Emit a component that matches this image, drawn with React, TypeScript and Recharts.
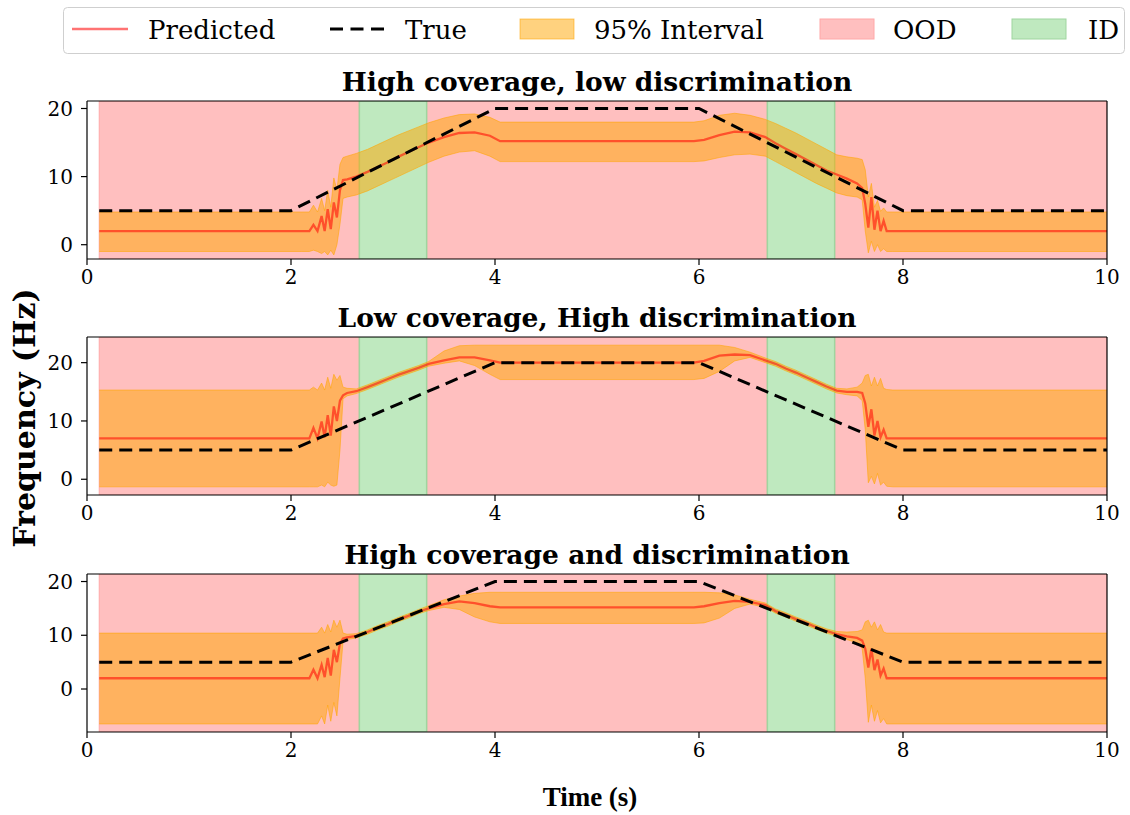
import React from 'react';
import { ComposedChart, Area, Line, XAxis, YAxis, ReferenceArea } from 'recharts';

// shared time grid (s)
const times = [0.12, 0.5, 1.0, 1.5, 2.0, 2.1, 2.18, 2.22, 2.26, 2.3, 2.33, 2.36, 2.39, 2.42, 2.45, 2.48, 2.51, 2.55, 2.64, 2.75, 2.85, 2.95, 3.05, 3.15, 3.25, 3.35, 3.5, 3.65, 3.8, 3.95, 4.05, 5.0, 5.95, 6.05, 6.2, 6.35, 6.5, 6.65, 6.75, 6.85, 6.95, 7.05, 7.15, 7.25, 7.35, 7.45, 7.55, 7.6, 7.63, 7.66, 7.69, 7.72, 7.75, 7.78, 7.81, 7.84, 7.9, 8.0, 8.5, 9.0, 9.5, 10.0];

// Panel 1: High coverage, low discrimination
const pred1 = [2, 2, 2, 2, 2, 2, 2, 2.9, 2.0, 4.2, 2.0, 5.2, 2.3, 6.2, 4.0, 8.0, 9.5, 9.6, 10.0, 10.7, 11.4, 12.1, 12.9, 13.6, 14.3, 15.0, 15.8, 16.4, 16.5, 16.0, 15.2, 15.2, 15.2, 15.4, 16.1, 16.6, 16.5, 15.8, 14.9, 14.1, 13.3, 12.5, 11.7, 10.9, 10.3, 9.7, 9.0, 8.3, 6.0, 2.5, 7.0, 2.2, 5.0, 2.0, 3.5, 2.0, 2, 2, 2, 2, 2, 2];
const lo1 = [-1, -1, -1, -1, -1, -1, -1, -0.8, -1, -1.3, -1.0, -1.5, -0.8, -1.5, 0.0, 3.0, 6.8, 7.0, 7.3, 7.9, 8.6, 9.3, 10.0, 10.7, 11.4, 12.1, 13.0, 13.6, 13.8, 13.0, 12.2, 12.2, 12.2, 12.3, 12.8, 13.2, 13.3, 13.0, 12.2, 11.4, 10.6, 9.8, 9.0, 8.3, 7.6, 7.2, 7.0, 6.6, 2.0, -1.2, 0.5, -1.0, 0.0, -1.0, -0.6, -1.0, -1, -1, -1, -1, -1, -1];
const hi1 = [4.8, 4.8, 4.8, 4.8, 4.8, 4.8, 4.8, 5.8, 4.8, 6.8, 5.0, 8.0, 5.5, 9.8, 8.0, 11.8, 12.8, 13.0, 13.4, 14.0, 14.7, 15.4, 16.1, 16.7, 17.3, 17.9, 18.6, 19.1, 19.2, 18.7, 18.0, 18.0, 18.0, 18.2, 19.0, 19.3, 19.0, 18.4, 17.8, 17.1, 16.4, 15.6, 14.8, 14.0, 13.2, 12.9, 12.7, 12.5, 11.0, 7.0, 9.0, 5.5, 6.5, 4.9, 5.4, 4.8, 4.8, 4.8, 4.8, 4.8, 4.8, 4.8];

// Panel 2: Low coverage, High discrimination
const pred2 = [7, 7, 7, 7, 7, 7, 7, 8.8, 7.0, 9.9, 7.2, 11.0, 7.5, 12.5, 10.0, 13.5, 14.4, 14.8, 15.1, 15.8, 16.5, 17.2, 17.9, 18.5, 19.1, 19.8, 20.4, 20.9, 20.9, 20.4, 20.0, 20.0, 20.0, 20.3, 21.2, 21.4, 21.3, 20.4, 19.8, 19.0, 18.3, 17.5, 16.7, 15.9, 15.2, 15.0, 15.0, 14.8, 13.0, 9.0, 12.0, 7.5, 10.0, 7.2, 8.5, 7.0, 7, 7, 7, 7, 7, 7];
const lo2 = [-1.3, -1.3, -1.3, -1.3, -1.3, -1.3, -1.3, -1.3, -1.3, -1.0, -1.3, -0.5, -1.0, -1.2, -1.0, 5.0, 13.8, 14.3, 14.7, 15.4, 16.1, 16.8, 17.5, 18.1, 18.7, 19.4, 19.9, 20.3, 19.5, 18.0, 17.1, 17.1, 17.1, 17.3, 18.5, 20.3, 20.9, 20.0, 19.4, 18.6, 17.9, 17.1, 16.3, 15.5, 14.8, 14.5, 14.3, 13.5, 8.5, -0.6, 0.5, -0.8, 1.0, -1.0, -0.5, -1.2, -1.3, -1.3, -1.3, -1.3, -1.3, -1.3];
const hi2 = [15.3, 15.3, 15.3, 15.3, 15.3, 15.3, 15.3, 15.8, 15.3, 16.5, 15.3, 17.5, 15.6, 18.0, 17.0, 17.8, 15.8, 15.6, 15.5, 16.2, 16.9, 17.6, 18.3, 18.9, 19.5, 20.2, 22.0, 22.9, 23.0, 23.0, 23.0, 23.0, 23.0, 23.0, 23.0, 22.6, 21.8, 20.8, 20.2, 19.4, 18.7, 17.9, 17.1, 16.3, 15.6, 15.5, 15.8, 16.5, 17.8, 18.0, 16.0, 17.5, 16.0, 17.3, 15.6, 15.4, 15.3, 15.3, 15.3, 15.3, 15.3, 15.3];

// Panel 3: High coverage and discrimination
const pred3 = [2, 2, 2, 2, 2, 2, 2, 3.6, 2.0, 4.5, 2.2, 5.8, 2.5, 7.3, 5.0, 8.5, 9.4, 9.6, 9.9, 10.6, 11.4, 12.1, 12.9, 13.6, 14.4, 15.0, 15.8, 16.3, 16.0, 15.4, 15.2, 15.2, 15.2, 15.4, 16.0, 16.4, 16.2, 15.6, 14.5, 13.8, 13.0, 12.3, 11.5, 10.8, 10.2, 9.8, 9.5, 9.0, 7.5, 4.0, 7.5, 3.5, 5.5, 2.5, 3.8, 2.0, 2, 2, 2, 2, 2, 2];
const lo3 = [-6.5, -6.5, -6.5, -6.5, -6.5, -6.5, -6.5, -6.5, -6.5, -5.0, -6.5, -3.0, -6.0, -2.5, -5.0, 2.0, 8.8, 9.2, 9.5, 10.2, 11.0, 11.7, 12.5, 13.2, 14.0, 14.6, 15.2, 14.8, 13.4, 12.5, 12.2, 12.2, 12.2, 12.3, 13.2, 15.0, 15.8, 15.2, 14.1, 13.4, 12.6, 11.9, 11.1, 10.4, 9.8, 9.2, 8.6, 7.5, 2.0, -6.2, -3.0, -6.0, -4.0, -6.3, -5.5, -6.5, -6.5, -6.5, -6.5, -6.5, -6.5, -6.5];
const hi3 = [10.4, 10.4, 10.4, 10.4, 10.4, 10.4, 10.4, 10.4, 10.4, 11.5, 10.4, 12.0, 10.6, 12.8, 11.5, 12.8, 10.4, 10.2, 10.3, 11.0, 11.8, 12.5, 13.3, 14.0, 14.8, 15.5, 16.6, 17.3, 17.8, 18.0, 18.0, 18.0, 18.0, 18.0, 17.9, 17.5, 16.7, 16.0, 14.9, 14.2, 13.4, 12.7, 11.9, 11.2, 10.7, 10.6, 10.7, 11.0, 12.5, 12.8, 11.5, 12.5, 11.0, 12.0, 10.6, 10.4, 10.4, 10.4, 10.4, 10.4, 10.4, 10.4];

// True frequency
const truthTimes = [0.12, 2, 4, 6, 8, 10];
const truthValues = [5, 5, 20, 20, 5, 5];

// shaded regions
const oodSpans = [[0.12, 2.67], [3.33, 6.67], [7.33, 10]];
const idSpans = [[2.67, 3.33], [6.67, 7.33]];

const xTicks = [0, 2, 4, 6, 8, 10];
const yTicks = [0, 10, 20];
const titles = ['High coverage, low discrimination', 'Low coverage, High discrimination', 'High coverage and discrimination'];
const yDomains = [[-2.1, 21.1], [-2.7, 24.4], [-8.0, 21.4]];
const panelTops = [96, 332, 569];

const FONT = 'DejaVu Serif';
const tickStyle = { fill: '#000', fontSize: 20, fontFamily: FONT };
const spine = { stroke: '#000', strokeWidth: 1.2 };

function Panel({ pred, lo, hi, domain, top }: any) {
  const data = times.map((t, i) => ({ t, pred: pred[i], band: [lo[i], hi[i]] }));
  const truth = truthTimes.map((t, i) => ({ t, truth: truthValues[i] }));
  return (
    <div style={{ position: 'absolute', left: 0, top, width: 1130, height: 193 }}>
      <ComposedChart width={1130} height={193} data={data} margin={{ top: 4, right: 22, left: 47, bottom: 0 }}>
        <XAxis dataKey="t" type="number" domain={[0, 10]} ticks={xTicks} allowDataOverflow height={30}
          tickSize={6} tickMargin={5} axisLine={spine} tickLine={spine} tick={tickStyle} />
        <XAxis xAxisId="top" dataKey="t" orientation="top" type="number" domain={[0, 10]} allowDataOverflow height={1}
          tick={false} tickLine={false} axisLine={spine} />
        <YAxis type="number" domain={domain} ticks={yTicks} allowDataOverflow width={40}
          tickSize={6} tickMargin={8} axisLine={spine} tickLine={spine} tick={tickStyle} />
        <YAxis yAxisId="right" orientation="right" type="number" domain={domain} allowDataOverflow width={1}
          tick={false} tickLine={false} axisLine={spine} />
        {oodSpans.map(([a, b], k) => (
          <ReferenceArea key={'o' + k} x1={a} x2={b} y1={domain[0]} y2={domain[1]} fill="#ffbfbf" fillOpacity={1}
            stroke="#ffa8a8" strokeWidth={1} ifOverflow="hidden" />
        ))}
        {idSpans.map(([a, b], k) => (
          <ReferenceArea key={'i' + k} x1={a} x2={b} y1={domain[0]} y2={domain[1]} fill="#bfe9bf" fillOpacity={1}
            stroke="#9fd59f" strokeWidth={1.5} ifOverflow="hidden" />
        ))}
        <Area dataKey="band" type="linear" fill="#ffa500" fillOpacity={0.5} stroke="#ffa500" strokeOpacity={0.55}
          strokeWidth={1} dot={false} activeDot={false} isAnimationActive={false} />
        <Line xAxisId="top" dataKey="pred" type="linear" stroke="#ff0000" strokeOpacity={0.55} strokeWidth={2.3}
          dot={false} activeDot={false} isAnimationActive={false} />
        <Line yAxisId="right" data={truth} dataKey="truth" type="linear" stroke="#000" strokeWidth={3} strokeDasharray="13 7"
          dot={false} activeDot={false} isAnimationActive={false} />
      </ComposedChart>
    </div>
  );
}

export default function App() {
  const series = [[pred1, lo1, hi1], [pred2, lo2, hi2], [pred3, lo3, hi3]];
  return (
    <div style={{ position: 'absolute', left: 0, top: 0, width: 1130, height: 815, background: '#fff', fontFamily: FONT }}>
      {series.map(([p, l, h], k) => (
        <Panel key={k} pred={p} lo={l} hi={h} domain={yDomains[k]} top={panelTops[k]} />
      ))}
      <svg width={1130} height={815} style={{ position: 'absolute', left: 0, top: 0, pointerEvents: 'none' }}>
        {/* legend */}
        <rect x={63.5} y={7.5} width={1061} height={46} rx={4} fill="#fff" stroke="#cfcfcf" strokeWidth={1} />
        <line x1={72} x2={128} y1={29} y2={29} stroke="#ff0000" strokeOpacity={0.55} strokeWidth={2.5} />
        <text x={148} y={39} fontFamily={FONT} fontSize={26} fill="#000">Predicted</text>
        <line x1={330} x2={384} y1={29} y2={29} stroke="#000" strokeWidth={3} strokeDasharray="13 7.5" />
        <text x={405} y={39} fontFamily={FONT} fontSize={26} fill="#000">True</text>
        <rect x={520} y={19} width={54} height={20} fill="#ffa500" fillOpacity={0.5} stroke="#ffa500" strokeOpacity={0.55} />
        <text x={594} y={39} fontFamily={FONT} fontSize={26} fill="#000">95% Interval</text>
        <rect x={820} y={19} width={54} height={20} fill="#ffbfbf" stroke="#ffa8a8" />
        <text x={893} y={39} fontFamily={FONT} fontSize={26} fill="#000">OOD</text>
        <rect x={1012} y={19} width={54} height={20} fill="#bfe9bf" stroke="#9fd59f" />
        <text x={1088} y={39} fontFamily={FONT} fontSize={26} fill="#000">ID</text>
        {/* titles */}
        {titles.map((t, k) => (
          <text key={k} x={597} y={panelTops[k] - 5} textAnchor="middle" fontFamily={FONT} fontSize={26.5} fontWeight="bold" fill="#000">{t}</text>
        ))}
        {/* axis labels */}
        <text x={590} y={806} textAnchor="middle" fontFamily="Liberation Serif" fontSize={27} fontWeight="bold" fill="#000">Time (s)</text>
        <text transform="translate(35, 418) rotate(-90)" textAnchor="middle" fontFamily={FONT} fontSize={30} fontWeight="bold" fill="#000">Frequency (Hz)</text>
      </svg>
    </div>
  );
}
